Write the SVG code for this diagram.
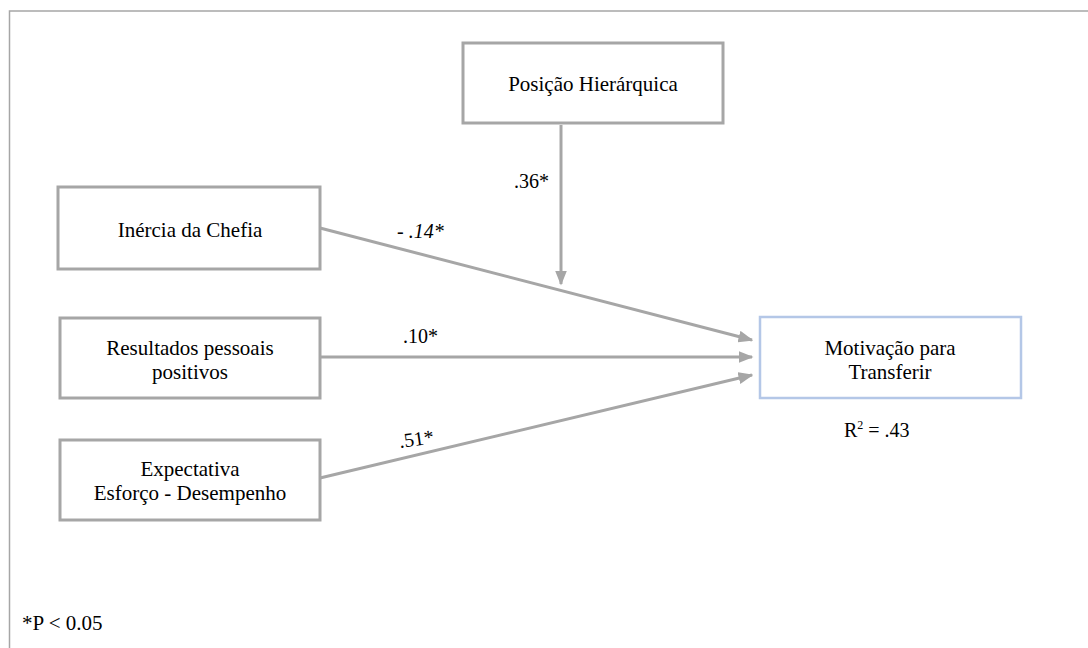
<svg xmlns="http://www.w3.org/2000/svg" width="1088" height="648" viewBox="0 0 1088 648">
<defs>
<style>
.box{fill:#fff;stroke:#a6a6a6;stroke-width:3}
.tbox{fill:#fff;stroke:#b4c7e7;stroke-width:2.5}
text{font-family:'Liberation Serif','Times New Roman','DejaVu Serif',serif;font-size:21px;fill:#000}
.t{text-anchor:middle}
.l{font-size:20px}
.c{stroke:#a6a6a6;stroke-width:3;fill:none;marker-end:url(#ah)}
</style>
<marker id="ah" markerWidth="5" markerHeight="4" refX="4.5" refY="2" orient="auto" markerUnits="strokeWidth">
<path d="M0,0 L5,2 L0,4 Z" fill="#a6a6a6"/>
</marker>
</defs>
<rect width="1088" height="648" fill="#fff"/>
<rect x="9.5" y="11" width="1100" height="660" fill="none" stroke="#a6a6a6" stroke-width="1.5"/>
<g id="connectors">
<line class="c" x1="561" y1="125" x2="561" y2="284"/>
<line class="c" x1="320" y1="228" x2="752" y2="340"/>
<line class="c" x1="320" y1="357" x2="752" y2="357"/>
<line class="c" x1="320" y1="478" x2="752" y2="375"/>
</g>
<g id="node-posicao">
<rect class="box" x="463" y="43" width="260" height="80"/>
<text class="t" x="593" y="91">Posição Hierárquica</text>
</g>
<g id="node-inercia">
<rect class="box" x="58" y="187" width="262" height="82"/>
<text class="t" x="190" y="237">Inércia  da Chefia</text>
</g>
<g id="node-resultados">
<rect class="box" x="60" y="318" width="260" height="80"/>
<text class="t" x="190" y="355">Resultados  pessoais</text>
<text class="t" x="190" y="379">positivos</text>
</g>
<g id="node-expectativa">
<rect class="box" x="60" y="440" width="260" height="80"/>
<text class="t" x="190" y="476">Expectativa</text>
<text class="t" x="190" y="500">Esforço - Desempenho</text>
</g>
<g id="node-motivacao">
<rect class="tbox" x="760" y="317" width="261" height="81"/>
<text class="t" x="890" y="355">Motivação  para</text>
<text class="t" x="890" y="379">Transferir</text>
</g>
<g id="labels">
<text class="l" x="397" y="238" font-style="italic">- .14*</text>
<text class="l" x="514" y="188">.36*</text>
<text class="l" x="403" y="343">.10*</text>
<text class="l" x="400" y="448" transform="rotate(-8 400 448)">.51*</text>
<text class="l" x="844" y="437">R<tspan font-size="12" dy="-8">2</tspan><tspan dy="8"> = .43</tspan></text>
<text x="22" y="630">*P &lt; 0.05</text>
</g>
</svg>
